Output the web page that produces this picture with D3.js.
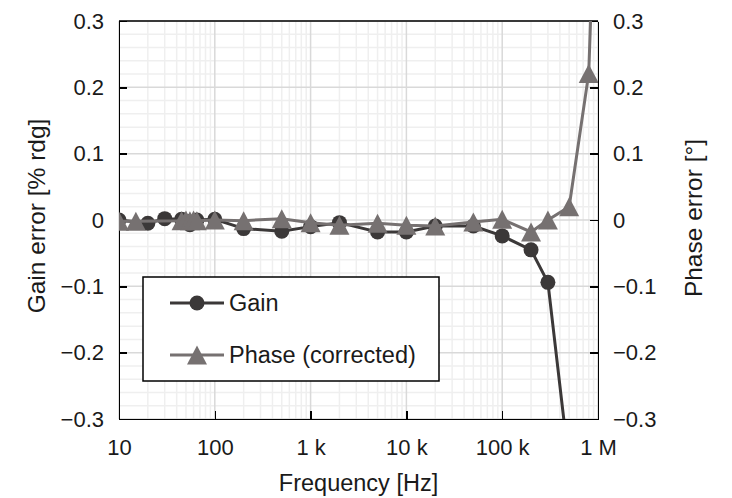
<!DOCTYPE html>
<html>
<head>
  <meta charset="utf-8">
  <title>Gain and phase error</title>
  <style>
    body { margin: 0; background: #fff; }
    svg text { font-family: "Liberation Sans", Arial, sans-serif; fill: #1a1a1a; }
    .axis path, .axis line { stroke: #000; stroke-width: 1.5; shape-rendering: crispEdges; }
    .axis text { font-size: 22px; }
  </style>
  <script src="https://d3js.org/d3.v7.min.js"></script>
</head>
<body>
  <script>
    // data
    var gainFreq = [10, 20, 30, 45, 50, 55, 60, 65, 100, 200, 500, 1000, 2000, 5000, 10000, 20000, 50000, 100000, 200000, 300000, 500000, 800000];
    var gainErr  = [0.0, -0.005, 0.002, 0.001, -0.002, -0.007, -0.003, 0.0, 0.001, -0.013, -0.017, -0.010, -0.004, -0.018, -0.018, -0.009, -0.009, -0.024, -0.045, -0.094, -0.37, -0.80];
    var phaseFreq = [10, 15, 45, 50, 55, 60, 65, 100, 200, 500, 1000, 2000, 5000, 10000, 20000, 50000, 100000, 200000, 300000, 500000, 800000, 1000000];
    var phaseErr  = [-0.002, -0.002, -0.001, 0.0, -0.001, 0.0, -0.001, 0.0, -0.001, 0.002, -0.004, -0.008, -0.005, -0.008, -0.009, -0.003, 0.001, -0.018, 0.0, 0.02, 0.221, 0.62];
    var xTicks = [10, 100, 1000, 10000, 100000, 1000000];
    var xTickLabels = ['10', '100', '1 k', '10 k', '100 k', '1 M'];
    var yTicks = [-0.3, -0.2, -0.1, 0, 0.1, 0.2, 0.3];
    var seriesNames = ['Gain', 'Phase (corrected)'];

    var width = 732, height = 498;
    var padding = {left: 119, right: 134, top: 21, bottom: 79};
    var innerW = width - padding.left - padding.right;
    var innerH = height - padding.top - padding.bottom;

    var gainColor = '#3b3838', phaseColor = '#767171';

    var svg = d3.select('body').append('svg')
      .attr('width', width).attr('height', height);

    var xScale = d3.scaleLog().domain([10, 1e6]).range([0, innerW]);
    var yScale = d3.scaleLinear().domain([-0.3, 0.3]).range([innerH, 0]);

    var g = svg.append('g')
      .attr('transform', 'translate(' + padding.left + ',' + padding.top + ')');

    svg.append('defs').append('clipPath').attr('id', 'plot-clip')
      .append('rect').attr('width', innerW).attr('height', innerH);

    // grid: minor first, then major
    var minorX = [];
    xTicks.slice(0, -1).forEach(function (d) {
      for (var k = 2; k <= 9; k++) minorX.push(d * k);
    });
    var minorY = d3.range(-0.3, 0.3001, 0.02).filter(function (v) {
      return Math.abs(Math.round(v * 10) - v * 10) > 0.01;
    });
    g.selectAll('.gx-minor').data(minorX).enter().append('line')
      .attr('x1', d => xScale(d)).attr('x2', d => xScale(d))
      .attr('y1', 0).attr('y2', innerH)
      .attr('stroke', '#efefef').attr('stroke-width', 1.5);
    g.selectAll('.gy-minor').data(minorY).enter().append('line')
      .attr('x1', 0).attr('x2', innerW)
      .attr('y1', d => yScale(d)).attr('y2', d => yScale(d))
      .attr('stroke', '#efefef').attr('stroke-width', 1.5);
    g.selectAll('.gx-major').data(xTicks).enter().append('line')
      .attr('x1', d => xScale(d)).attr('x2', d => xScale(d))
      .attr('y1', 0).attr('y2', innerH)
      .attr('stroke', '#d9d9d9').attr('stroke-width', 1.5);
    g.selectAll('.gy-major').data(yTicks).enter().append('line')
      .attr('x1', 0).attr('x2', innerW)
      .attr('y1', d => yScale(d)).attr('y2', d => yScale(d))
      .attr('stroke', '#d9d9d9').attr('stroke-width', 1.5);

    // axes (ticks point inward)
    var fmt = function (d) { return d === 0 ? '0' : d3.format('.1f')(d).replace('-', '\u2212'); };
    var xAxis = d3.axisBottom(xScale).tickValues(xTicks)
      .tickFormat((d, i) => xTickLabels[i]).tickSizeInner(-8).tickSizeOuter(0).tickPadding(20);
    var yAxisL = d3.axisLeft(yScale).tickValues(yTicks).tickFormat(fmt)
      .tickSizeInner(-8).tickSizeOuter(0).tickPadding(15);
    var yAxisR = d3.axisRight(yScale).tickValues(yTicks).tickFormat(fmt)
      .tickSizeInner(-8).tickSizeOuter(0).tickPadding(15);

    g.append('g').attr('class', 'axis').attr('transform', 'translate(0,' + innerH + ')').call(xAxis);
    g.append('g').attr('class', 'axis').call(yAxisL);
    g.append('g').attr('class', 'axis').attr('transform', 'translate(' + innerW + ',0)').call(yAxisR);
    g.append('line').attr('x1', 0).attr('x2', innerW).attr('y1', 0).attr('y2', 0)
      .attr('stroke', '#000').attr('stroke-width', 1.5);
    g.selectAll('.axis .domain').attr('stroke-width', 2);

    // series
    var plot = g.append('g').attr('clip-path', 'url(#plot-clip)');
    var line = d3.line().x(d => xScale(d[0])).y(d => yScale(d[1]));
    var gainPts = gainFreq.map((f, i) => [f, gainErr[i]]);
    var phasePts = phaseFreq.map((f, i) => [f, phaseErr[i]]);
    var triPath = 'M0,-9.5L10,9.5L-10,9.5Z';

    plot.append('path').datum(gainPts).attr('d', line)
      .attr('fill', 'none').attr('stroke', gainColor).attr('stroke-width', 3);
    plot.selectAll('.gain-pt').data(gainPts).enter().append('circle')
      .attr('cx', d => xScale(d[0])).attr('cy', d => yScale(d[1])).attr('r', 7.5)
      .attr('fill', gainColor);

    plot.append('path').datum(phasePts).attr('d', line)
      .attr('fill', 'none').attr('stroke', phaseColor).attr('stroke-width', 3);
    plot.selectAll('.phase-pt').data(phasePts).enter().append('path')
      .attr('d', triPath)
      .attr('transform', d => 'translate(' + xScale(d[0]) + ',' + yScale(d[1]) + ')')
      .attr('fill', phaseColor);

    // legend
    var lg = svg.append('g').attr('transform', 'translate(143,277)');
    lg.append('rect').attr('width', 296).attr('height', 104)
      .attr('fill', '#fff').attr('stroke', '#000').attr('stroke-width', 1.5);
    seriesNames.forEach(function (name, i) {
      var y = 26 + i * 52;
      var c = i === 0 ? gainColor : phaseColor;
      lg.append('line').attr('x1', 27).attr('x2', 81).attr('y1', y).attr('y2', y)
        .attr('stroke', c).attr('stroke-width', 3);
      if (i === 0) {
        lg.append('circle').attr('cx', 54).attr('cy', y).attr('r', 7.5).attr('fill', c);
      } else {
        lg.append('path').attr('d', triPath).attr('transform', 'translate(54,' + y + ')').attr('fill', c);
      }
      lg.append('text').attr('x', 86).attr('y', y).attr('dy', '0.35em')
        .style('font-size', '23.5px').text(name);
    });

    // axis titles
    svg.append('text').attr('x', padding.left + innerW / 2).attr('y', 491)
      .attr('text-anchor', 'middle').style('font-size', '23.5px').text('Frequency [Hz]');
    svg.append('text').attr('transform', 'translate(45,216) rotate(-90)')
      .attr('text-anchor', 'middle').style('font-size', '24.5px').text('Gain error [% rdg]');
    svg.append('text').attr('transform', 'translate(702,218) rotate(-90)')
      .attr('text-anchor', 'middle').style('font-size', '24.5px').text('Phase error [\u00b0]');
  </script>
</body>
</html>
